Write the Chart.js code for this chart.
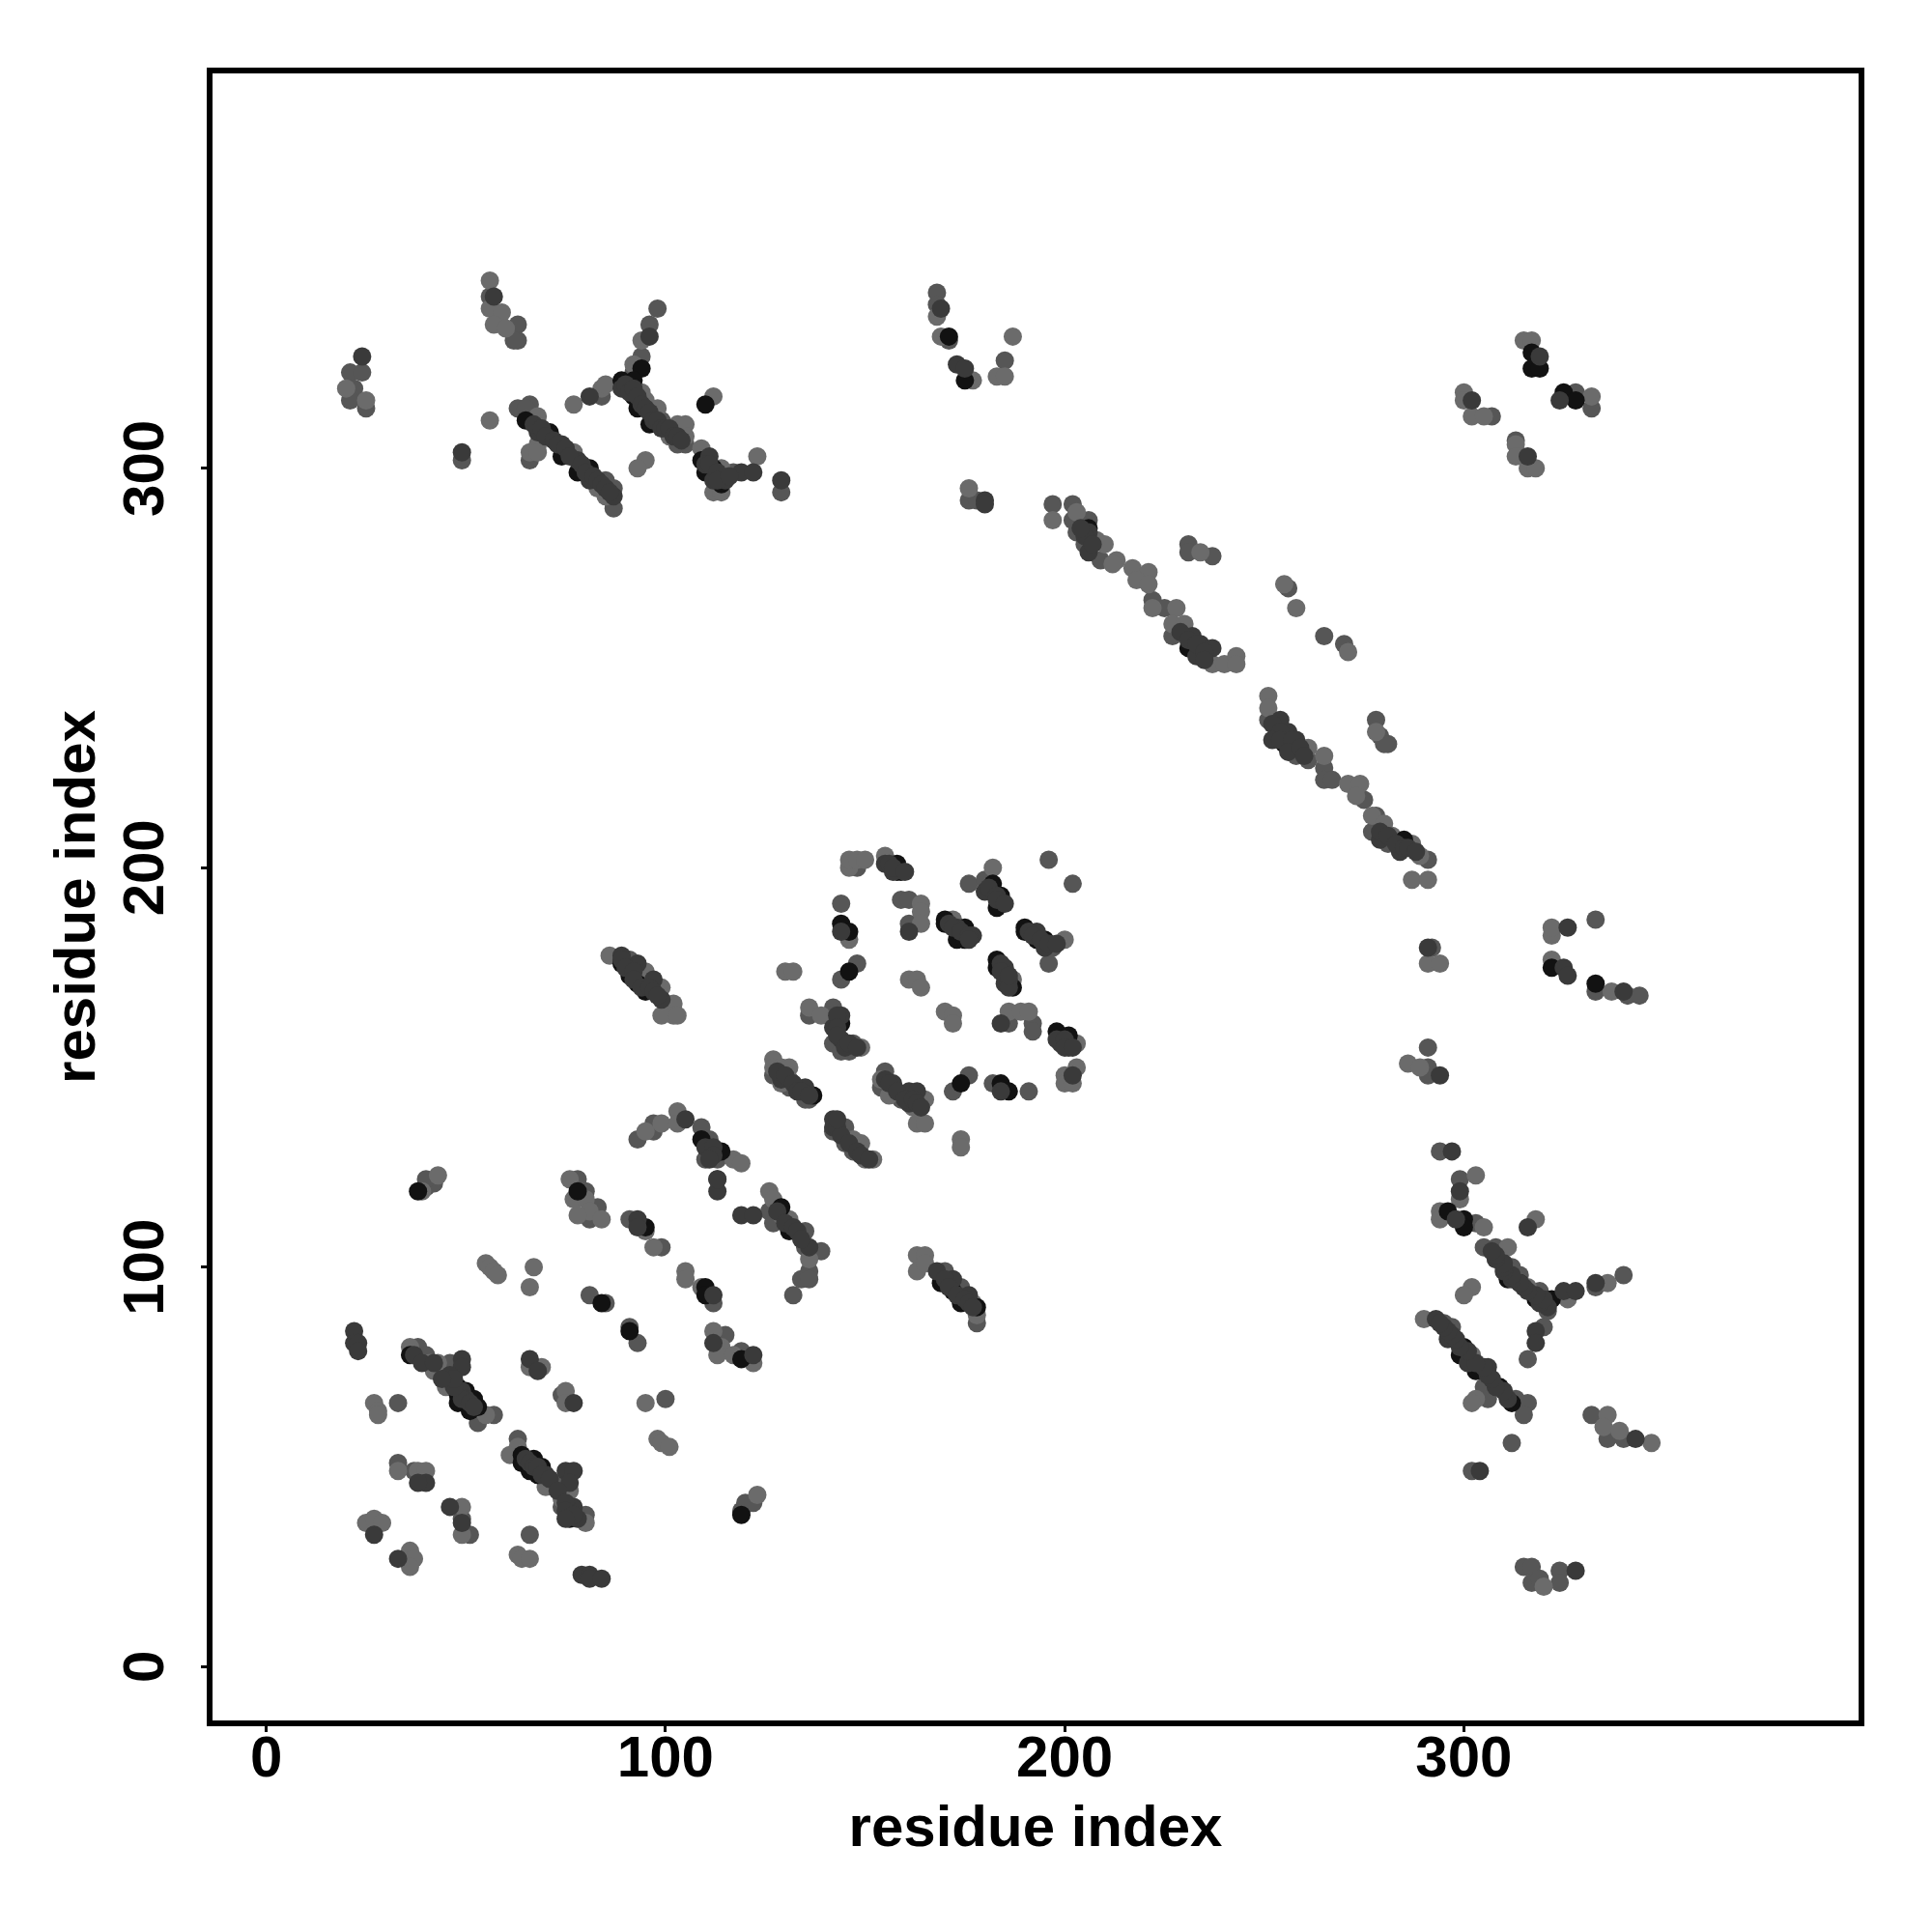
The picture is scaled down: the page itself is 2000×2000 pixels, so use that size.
<!DOCTYPE html>
<html>
<head>
<meta charset="utf-8">
<title>residue contact map</title>
<script src="https://cdn.jsdelivr.net/npm/chart.js@4/dist/chart.umd.min.js"></script>
<style>
    html, body { margin: 0; padding: 0; background: #fff; }
    canvas { display: block; }
</style>
</head>
<body>
<canvas id="contacts" width="2000" height="2000"></canvas>
<script>
const tickValues = [0, 100, 200, 300]
const axisLabel = 'residue index'

// contacts as [i, j], grouped by how dark the dot is
const blackContacts = [
    [38,119],[95,110],[110,95],[110,93],[36,78],[48,70],[50,69],[48,68],[52,67],[48,66],[51,64],[53,65],
    [64,53],[64,51],[67,52],[66,49],[69,50],[68,48],[76,37],[119,38],[84,91],[91,84],[119,77],[78,119],
    [158,201],[159,199],[158,199],[144,186],[146,184],[182,196],[182,194],[184,193],[184,191],[183,190],
    [170,187],[170,186],[175,185],[173,182],[175,182],[190,185],[190,184],[193,182],[195,182],
    [183,177],[183,175],[185,173],[187,170],[146,174],[144,161],[198,159],[201,158],[184,146],[186,144],
    [174,146],[137,143],[109,132],[114,129],[129,115],[131,109],[169,96],[172,94],[174,91],[178,90],
    [89,176],[91,173],[93,171],[95,169],
    [65,312],[71,309],[74,303],[81,300],[78,299],[94,325],[92,322],[89,322],[92,318],[93,315],[96,311],
    [109,302],[112,300],[110,299],[114,296],[110,316],
    [171,333],[175,322],[317,329],[317,325],[319,325],[325,319],[328,317],[206,285],[231,255],[255,231],[285,207],
    [322,175],[333,171],[296,114],[300,112],[300,110],[311,97],[314,96],[318,92],[322,92],
    [300,80],[299,78],[303,74],[309,70],[312,66]
]
const darkContacts = [
    [93,112],[93,110],[112,93],[113,122],[113,119],[119,113],[122,113],[22,84],[22,81],[23,81],[23,79],
    [37,78],[39,76],[49,77],[49,75],[46,73],[66,77],[68,74],[77,66],[70,48],[75,49],[77,49],[76,46],[77,40],[78,37],
    [40,46],[38,46],[46,40],[49,36],[27,33],[33,27],[79,23],[81,23],[81,22],[84,22],[112,81],[122,78],
    [155,201],[157,199],[144,184],[161,184],[180,194],[173,185],[177,183],[193,184],[195,180],[185,175],[185,171],
    [144,163],[142,160],[144,157],[184,161],[199,156],[201,155],[202,148],[184,144],
    [129,147],[135,145],[157,146],[161,144],[163,144],[161,141],[142,137],[142,135],[105,137],[111,129],[113,122],
    [136,105],[168,99],[172,97],[176,93],[93,176],[97,172],[99,167],[89,178],
    [24,328],[57,343],[49,304],[68,309],[74,306],[78,302],[81,297],[87,293],[81,318],[96,333],[89,320],
    [111,303],[112,297],[115,297],[119,299],[122,299],[129,297],
    [169,340],[173,326],[175,325],[319,328],[324,317],[302,317],[316,303],[180,292],[180,291],
    [206,279],[232,258],[234,256],[233,253],[237,255],[254,237],[253,233],[256,234],[258,232],[279,207],[284,204],
    [291,180],[326,185],[325,175],[326,173],[340,169],[294,148],[297,129],[299,119],[298,112],[325,94],[328,94],[333,96],
    [316,110],[318,84],[318,81],[293,87],[296,82],[301,76],[306,75],[304,49],[343,57],[328,24],
    // the dense runs along the streaks, hidden under the dots above
    [49,69],[50,67],[49,67],[51,66],[52,65],[47,70],[47,72],[44,72],[42,76],
    [65,52],[66,51],[67,50],[68,50],[69,48],[71,47],[73,44],[75,41],[75,39],[77,38],[75,37],
    [89,177],[90,175],[92,174],[92,172],[94,170],[96,170],[97,169],[98,168],
    [170,97],[171,95],[173,93],[175,92],[176,91],[177,90],
    [128,149],[130,148],[132,146],[133,144],[134,144],[136,143],
    [128,114],[130,111],[132,110],[133,109],[134,107],[110,130],[112,130],[112,128],[111,127],
    [143,135],[144,133],[146,131],[148,129],[149,128],[151,127],[143,137],
    [155,147],[156,146],[158,144],[160,142],[162,142],[163,141],[164,140],
    [143,163],[143,160],[143,158],[145,155],[146,156],[148,155],
    [171,186],[172,185],[174,184],[176,183],[176,182],
    [184,176],[184,174],[186,172],[186,170],[186,173],
    [191,184],[192,183],[194,182],[196,181],[198,181],
    [198,157],[200,157],[200,155],[202,155],
    [181,195],[183,193],[183,192],[185,191],
    [156,201],[157,200],[160,199],
    [67,311],[69,310],[70,308],[72,307],[73,306],[75,305],[76,303],[79,301],[80,299],[82,298],[83,297],[84,296],[85,295],[86,294],
    [90,321],[91,319],[92,320],[93,318],[94,316],[95,315],[96,314],[97,312],[98,312],[99,310],[100,310],[101,310],[102,308],[103,308],[104,307],
    [110,301],[111,301],[113,299],[113,297],[116,298],
    [321,90],[319,91],[320,92],[318,93],[316,94],[315,95],[314,96],[312,97],[312,98],[310,99],[310,100],[310,101],[308,102],[308,103],[307,104],
    [311,67],[310,69],[308,70],[307,72],[306,73],[305,75],[303,76],[301,79],[299,80],[298,82],[297,83],[296,84],[295,85],[294,86],
    [252,236],[254,234],[252,232],[254,232],[257,232],[256,229],[259,230],[260,228],
    [206,284],[205,283],[207,281],[204,285],
    [229,259],[231,257],[233,256],[235,254],[235,252],
    [279,209],[281,208],[283,206],[285,205],[286,205],[288,204]
]
const midContacts = [
    [40,120],[42,121],[40,122],[78,122],[80,119],[83,115],[81,112],[91,112],[99,105],[112,91],[81,93],[85,91],[91,85],[93,81],
    [115,83],[119,79],[38,80],[40,78],[46,76],[33,66],[74,68],[100,67],[57,63],[53,61],[63,57],[72,46],[74,40],[80,38],
    [33,51],[37,49],[49,37],[51,33],[66,33],[119,39],[120,41],[122,41],[132,93],[134,97],[136,99],[136,97],
    [148,200],[159,192],[161,192],[161,186],[144,191],[176,196],[180,197],[196,202],[202,196],[197,180],[196,176],
    [148,176],[144,172],[136,163],[142,165],[141,163],[142,156],[147,156],[146,154],[144,154],[186,161],[192,161],[192,159],
    [191,144],[182,146],[176,148],[172,144],[127,148],[131,145],[135,142],[136,142],[155,149],[154,145],[159,142],
    [145,135],[142,134],[145,131],[147,129],[93,132],[97,134],[97,136],[109,135],[111,132],[113,127],[110,127],
    [126,114],[127,111],[135,109],[135,105],[139,104],[170,99],[174,95],[178,86],[91,177],
    [21,324],[24,324],[22,320],[21,317],[25,315],[56,343],[63,336],[63,332],[62,332],[49,302],[63,315],[66,316],[65,315],
    [66,302],[85,297],[87,295],[87,290],[84,318],[98,340],[96,336],[94,328],[92,324],[99,312],[105,306],[103,306],[117,299],[129,294],
    [168,344],[168,341],[171,332],[185,327],[328,319],[332,315],[307,313],[313,307],[176,292],[178,292],[197,291],
    [202,291],[206,287],[202,287],[203,284],[205,281],[209,277],[222,267],[225,265],[227,258],[231,281],[231,279],[237,278],
    [256,270],[265,258],[270,256],[251,237],[258,228],[261,227],[265,225],[265,222],[267,222],[275,217],[278,213],[277,209],
    [281,206],[291,202],[278,237],[279,233],[281,231],[280,231],
    [292,180],[333,187],[333,169],[341,168],[344,168],[291,155],[291,150],[291,148],[294,129],[299,122],[303,111],[305,105],[308,105],
    [312,100],[314,98],[319,94],[321,89],[333,95],[340,98],[320,85],[316,77],[295,86],[297,85],[304,75],[305,70],[306,67],
    [313,67],[316,66],[315,63],[312,56],[302,49],[332,63],[336,57],[340,57],
    [315,25],[317,25],[317,21],[319,22],[324,24],[324,21]
]
const lightContacts = [
    [39,119],[43,123],[76,122],[77,117],[80,117],[81,114],[78,113],[84,112],[95,109],[97,105],[105,99],[105,97],[109,95],
    [55,101],[56,100],[57,99],[58,98],[67,100],[66,95],[112,84],[114,80],[113,78],[117,78],[122,76],
    [36,80],[41,76],[43,76],[42,74],[45,70],[55,63],[27,66],[28,64],[28,63],[66,75],[69,75],[75,69],[75,66],[95,66],
    [98,57],[99,56],[101,55],[63,55],[61,53],[70,45],[74,42],[76,44],[80,36],[33,49],[38,49],[40,49],[49,40],[49,33],
    [25,36],[27,37],[29,36],[36,29],[37,27],[36,25],[63,28],[64,27],[66,27],[123,43],
    [146,200],[146,202],[148,202],[150,202],[155,203],[146,182],[164,191],[164,189],[164,186],[182,200],[172,187],[200,182],
    [187,172],[130,174],[132,174],[161,172],[163,172],[164,170],[136,165],[139,163],[149,155],[170,164],[172,163],[172,161],
    [186,164],[189,164],[191,164],[203,156],[203,150],[200,148],[200,146],[202,146],[174,132],[174,130],
    [127,152],[127,150],[129,150],[131,150],[131,147],[129,146],[154,147],[156,143],[165,142],[162,140],[163,136],[165,136],
    [147,132],[149,131],[150,127],[152,127],[95,134],[99,136],[103,139],[103,136],[117,127],[119,126],
    [126,119],[127,117],[129,113],[131,112],[136,102],[163,103],[165,103],[163,99],[165,101],[177,91],[178,88],
    [86,178],[95,174],[99,170],[102,166],[102,163],[99,163],[103,163],
    [20,320],[25,317],[56,347],[56,340],[59,339],[57,336],[60,335],[56,312],[68,313],[66,304],[68,306],[68,304],[77,304],
    [80,300],[83,295],[85,293],[77,316],[84,320],[85,321],[94,332],[92,326],[94,319],[95,317],[98,315],[103,311],[105,311],
    [101,308],[105,308],[109,305],[114,300],[112,294],[114,294],[123,303],[112,318],[95,302],[93,300],
    [168,338],[169,333],[177,322],[187,333],[183,323],[185,323],[315,332],[317,332],[332,318],[300,319],[300,317],[302,313],[305,313],
    [313,306],[313,303],[316,300],[318,300],[176,295],[197,287],[203,289],[208,282],[210,281],[213,277],[212,276],
    [217,275],[221,274],[218,272],[221,271],[222,265],[228,265],[227,261],[230,261],[237,251],[240,251],[243,253],[243,251],
    [234,279],[255,271],[258,265],[271,254],[251,243],[251,240],[261,230],[265,228],[271,221],[274,221],[273,218],
    [277,213],[280,211],[282,208],[287,206],[289,203],[287,197],[291,197],[278,234],
    [291,176],[294,176],[322,183],[322,185],[322,177],[337,169],[286,151],[289,150],[303,123],[299,117],[294,114],[294,112],
    [305,110],[311,105],[308,102],[316,95],[326,92],[336,96],[318,112],[302,95],[300,93],[290,87],[302,78],[303,67],[302,66],
    [336,63],[335,60],[339,59],[347,56],[320,20]
]

const shades = [
    { data: darkContacts, colour: '#3a3a3a' },
    { data: blackContacts, colour: '#121212' },
    { data: lightContacts, colour: '#6b6b6b' },
    { data: midContacts, colour: '#565656' }
]

// R style box round the plot
const frame = {
    id: 'frame',
    afterDraw(chart) {
        const { ctx, chartArea: a } = chart
        ctx.save()
        ctx.strokeStyle = '#000'
        ctx.lineWidth = 6
        ctx.lineJoin = 'miter'
        ctx.strokeRect(a.left, a.top, a.right - a.left, a.bottom - a.top)
        ctx.restore()
    }
}

function makeAxis(extra) {
    return Object.assign({
        type: 'linear',
        min: -14.2,
        max: 399.6,
        afterBuildTicks: (scale) => { scale.ticks = tickValues.map((v) => ({ value: v })) },
        grid: { drawOnChartArea: false, drawTicks: true, tickLength: 9, tickWidth: 3, tickColor: '#000' },
        border: { display: false }
    }, extra)
}

const labelFont = { family: '"Liberation Sans"', size: 60, weight: 'bold' }

new Chart(document.getElementById('contacts'), {
    type: 'scatter',
    data: {
        datasets: shades.map((s) => ({
            data: s.data.map((p) => ({ x: p[0], y: p[1] })),
            backgroundColor: s.colour,
            pointRadius: 9.5,
            pointBorderWidth: 0,
            pointHoverRadius: 9.5
        }))
    },
    options: {
        responsive: false,
        animation: false,
        devicePixelRatio: 1,
        layout: { padding: { top: 73, right: 73, left: 0, bottom: 0 } },
        plugins: { legend: { display: false }, tooltip: { enabled: false } },
        scales: {
            x: makeAxis({
                afterFit: (scale) => { scale.height = 216 },
                ticks: { color: '#000', font: labelFont, padding: -7, maxRotation: 0, minRotation: 0, autoSkip: false },
                title: { display: true, text: axisLabel, color: '#000', font: labelFont, padding: { top: 0, bottom: 70 } }
            }),
            y: makeAxis({
                afterFit: (scale) => { scale.width = 217 },
                ticks: { color: '#000', font: labelFont, padding: 5, minRotation: 90, maxRotation: 90, crossAlign: 'center', autoSkip: false },
                title: { display: true, text: axisLabel, color: '#000', font: labelFont, padding: { top: 45, bottom: 0 } }
            })
        }
    },
    plugins: [frame]
})
</script>
</body>
</html>
